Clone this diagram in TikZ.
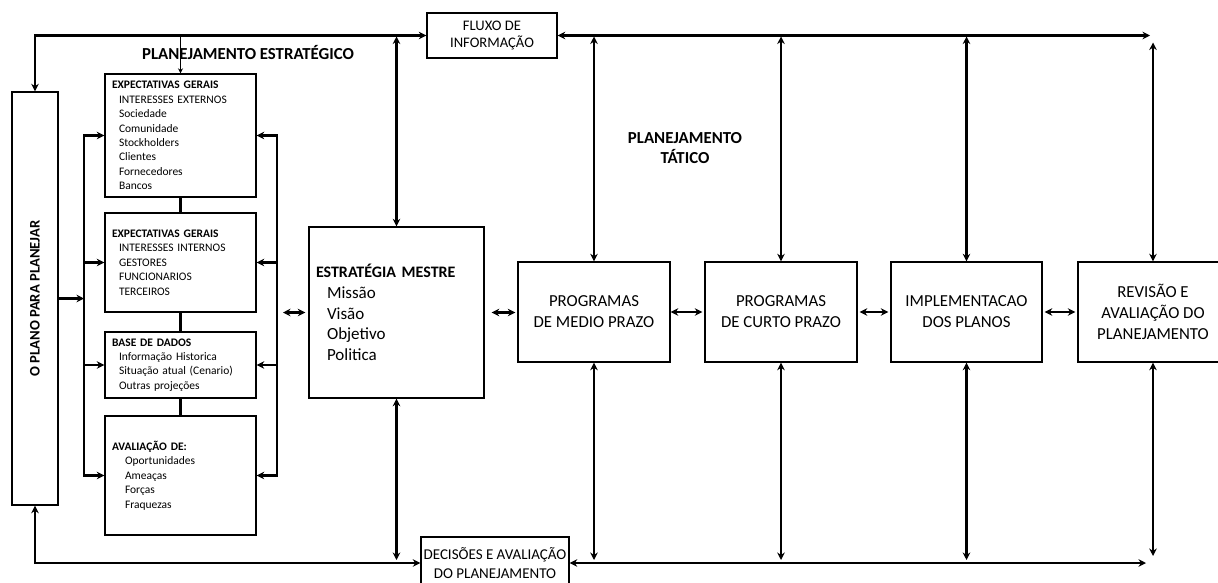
\documentclass[tikz,border=0pt]{standalone}
\usepackage{fontspec}
\setmainfont{Carlito}
\usepackage{tikz,graphicx}
\usetikzlibrary{arrows.meta}

\newcommand{\recuo}{\hspace*{7pt}}

\tikzset{
  caixa/.style={draw, line width=1.4pt, align=center, inner sep=0pt},
  pequena/.style={caixa, minimum width=151pt, text width=137pt, align=left, font=\fontsize{11.5}{14.4}\selectfont},
  grande/.style={caixa, minimum width=152pt, minimum height=100pt, font=\fontsize{16.8}{21}\selectfont},
  seta/.style={line width=2.4pt, >={Stealth[length=7.5pt,width=7.5pt]}},
  titulo/.style={font=\fontsize{16.8}{20.5}\selectfont\bfseries, align=center}
}

\begin{document}
\begin{tikzpicture}[x=1pt,y=-1pt]
\useasboundingbox (0,0) rectangle (1218,582);
	% Planejamento estrategico
 \node[caixa, minimum width=46pt, minimum height=413pt] (plano) at (35,298.5) {\rotatebox{90}{\fontsize{14.6}{17}\selectfont\bfseries O PLANO PARA PLANEJAR}};
 \node[pequena, minimum height=123pt] (exp1) at (180.5,135.5) {\textbf{EXPECTATIVAS GERAIS}\\ \recuo INTERESSES EXTERNOS\\ \recuo Sociedade\\ \recuo Comunidade\\ \recuo Stockholders\\ \recuo Clientes\\ \recuo Fornecedores\\ \recuo Bancos};
 \node[pequena, minimum height=99pt] (exp2) at (180.5,262.5) {\textbf{EXPECTATIVAS GERAIS}\\ \recuo INTERESSES INTERNOS\\ \recuo GESTORES\\ \recuo FUNCIONARIOS\\ \recuo TERCEIROS};
 \node[pequena, minimum height=66pt] (dados) at (180.5,365) {\textbf{BASE DE DADOS}\\ \recuo Informação Historica\\ \recuo Situação atual (Cenario)\\ \recuo Outras projeções};
 \node[pequena, minimum height=119pt] (aval) at (180.5,475.5) {\textbf{AVALIAÇÃO DE:}\\ \hspace*{13pt}Oportunidades\\ \hspace*{13pt}Ameaças\\ \hspace*{13pt}Forças\\ \hspace*{13pt}Fraquezas};
 \node[caixa, minimum width=175pt, minimum height=171pt, text width=161pt, align=left, font=\fontsize{17}{20.7}\selectfont] (mestre) at (396.5,312.5) {{\bfseries\fontsize{16}{20.7}\selectfont ESTRATÉGIA MESTRE}\\ \hspace*{11pt}Missão\\ \hspace*{11pt}Visão\\ \hspace*{11pt}Objetivo\\ \hspace*{11pt}Politica};

	% Planejamento tatico
 \node[grande] (medio) at (594,312) {PROGRAMAS\\DE MEDIO PRAZO};
 \node[grande] (curto) at (781,312) {PROGRAMAS\\DE CURTO PRAZO};
 \node[grande, minimum width=151pt] (impl) at (966.5,312) {IMPLEMENTACAO\\DOS PLANOS};
 \node[grande, minimum width=150pt] (revisao) at (1153,312) {REVISÃO E\\AVALIAÇÃO DO\\PLANEJAMENTO};

	% Fluxos
 \node[caixa, minimum width=130pt, minimum height=45pt, font=\fontsize{14.6}{17}\selectfont] (fluxo) at (492,35.5) {FLUXO DE\\INFORMAÇÃO};
 \node[caixa, minimum width=148pt, minimum height=52pt, font=\fontsize{15}{19.5}\selectfont] (decisoes) at (495,563) {DECISÕES E AVALIAÇÃO\\DO PLANEJAMENTO};

 \node[titulo] (estrat) at (248,52) {PLANEJAMENTO ESTRATÉGICO};
 \node[titulo] (tatico) at (685,148) {PLANEJAMENTO\\TÁTICO};

 \coordinate (lbus) at (84,0);
 \coordinate (rbus) at (277,0);
 \coordinate (topo) at (1150,35.5);
 \coordinate (base) at (1146,563);

	% Ligacoes
 \draw[seta,<->] (fluxo.west) -| (plano.north);
 \draw[line width=1.4pt,->,>={Stealth[length=5pt,width=5pt]}] (fluxo.west -| exp1.north) -- (exp1.north);
 \draw[seta,<->] (fluxo.east) -- (topo);
 \draw[seta,<->] (decisoes.west) -| (plano.south);
 \draw[seta,<->] (decisoes.east) -- (base);

 \draw[seta] (exp1) -- (exp2) (exp2) -- (dados) (dados) -- (aval);
 \draw[seta,<->] (exp1.west) -- (exp1.west -| lbus) -- (aval.west -| lbus) -- (aval.west);
 \draw[seta,<->] (exp1.east) -- (exp1.east -| rbus) -- (aval.east -| rbus) -- (aval.east);
 \foreach \b in {exp2,dados} {
   \draw[seta,->] (\b.west -| lbus) -- (\b.west);
   \draw[seta,->] (\b.east -| rbus) -- (\b.east);
 }
 \draw[seta,->] (plano.east) -- (plano.east -| lbus);
 \draw[seta,<->,shorten <=3pt,shorten >=6pt] (mestre.west) -- (mestre.west -| rbus);

 \draw[seta,<->,shorten <=7pt,shorten >=2pt] (mestre.east) -- (mestre.east -| medio.west);
 \draw[seta,<->,shorten >=2pt] (medio) -- (curto);
 \draw[seta,<->,shorten <=2pt,shorten >=2pt] (curto) -- (impl);
 \draw[seta,<->,shorten <=2pt,shorten >=2pt] (impl) -- (revisao);

 \foreach \b in {mestre,medio,curto,impl} {
   \draw[seta,<->,shorten >=1pt] (\b.north) -- (\b.north |- topo);
   \draw[seta,<->,shorten >=3pt] (\b.south) -- (\b.south |- base);
 }
 \draw[seta,<->,shorten >=7pt] (revisao.north) -- (revisao.north |- topo);
 \draw[seta,<->,shorten >=7pt] (revisao.south) -- (revisao.south |- base);
\end{tikzpicture}
\end{document}
